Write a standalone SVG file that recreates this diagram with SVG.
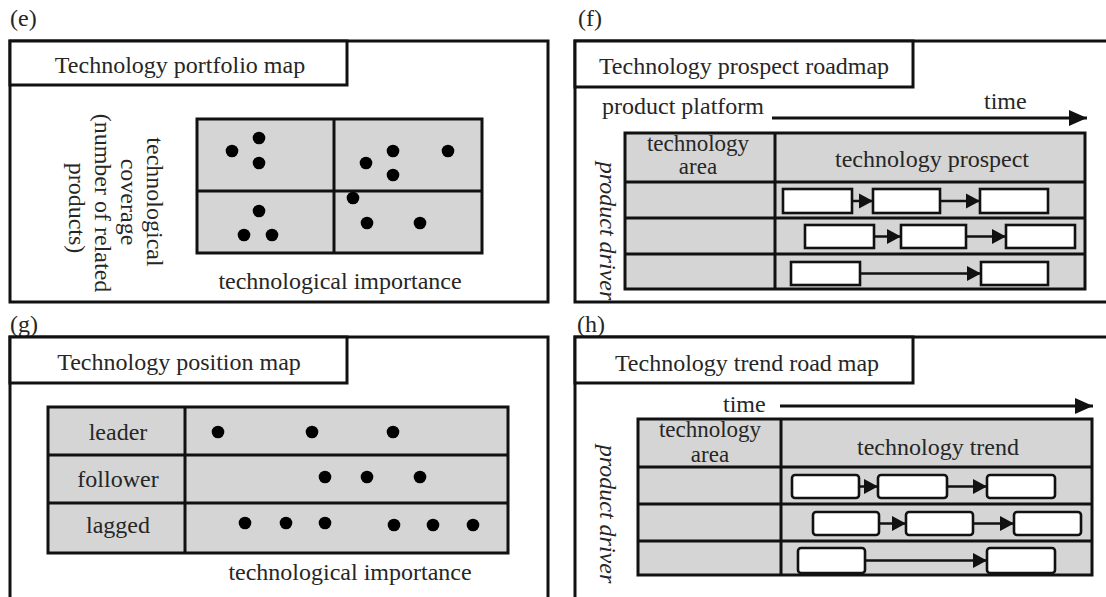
<svg xmlns="http://www.w3.org/2000/svg" width="1106" height="597" viewBox="0 0 1106 597">
<defs>
<style>
text{font-family:"Liberation Serif","Times New Roman",serif;font-size:24px;fill:#262626}
.c{text-anchor:middle}
.it{font-style:italic}
.sm{font-size:23px}
.frame{fill:#fff;stroke:#111;stroke-width:3}
.cell{fill:#d5d5d5;stroke:#111;stroke-width:3}
.ln{stroke:#111;stroke-width:3;fill:none}
.bx{fill:#fff;stroke:#111;stroke-width:2.6}
.dot{fill:#000}
.ar{stroke:#111;stroke-width:2.5;fill:none;marker-end:url(#ah)}
.tar{stroke:#111;stroke-width:3;fill:none;marker-end:url(#th)}
</style>
<marker id="ah" markerUnits="userSpaceOnUse" markerWidth="15" markerHeight="16" refX="14" refY="8" orient="auto"><path d="M0,0.5 L14,8 L0,15.5 Z" fill="#111"/></marker>
<marker id="th" markerUnits="userSpaceOnUse" markerWidth="19" markerHeight="18" refX="18" refY="9" orient="auto"><path d="M0,1 L18,9 L0,17 Z" fill="#111"/></marker>
</defs>

<g id="panel-e">
<text x="10" y="26">(e)</text>
<rect class="frame" x="10" y="41" width="538" height="261"/>
<rect class="frame" x="10" y="41" width="337" height="44"/>
<text class="c" x="180" y="73">Technology portfolio map</text>
<g id="e-axis-y">
<text class="c" transform="translate(147,202) rotate(90)">technological</text>
<text class="c" transform="translate(121,202) rotate(90)">coverage</text>
<text class="c" transform="translate(95,203) rotate(90)">(number of related</text>
<text class="c" transform="translate(69,208) rotate(90)">products)</text>
</g>
<g id="e-grid">
<rect class="cell" x="197" y="119" width="285" height="134"/>
<line class="ln" x1="334" y1="119" x2="334" y2="253"/>
<line class="ln" x1="197" y1="191" x2="482" y2="191"/>
</g>
<g id="e-dots">
<circle class="dot" cx="232" cy="151" r="6.3"/>
<circle class="dot" cx="259" cy="138" r="6.3"/>
<circle class="dot" cx="259" cy="163" r="6.3"/>
<circle class="dot" cx="366" cy="163" r="6.3"/>
<circle class="dot" cx="393" cy="151" r="6.3"/>
<circle class="dot" cx="393" cy="175" r="6.3"/>
<circle class="dot" cx="448" cy="151" r="6.3"/>
<circle class="dot" cx="353" cy="198" r="6.3"/>
<circle class="dot" cx="367" cy="223" r="6.3"/>
<circle class="dot" cx="420" cy="223" r="6.3"/>
<circle class="dot" cx="259" cy="211" r="6.3"/>
<circle class="dot" cx="244" cy="235" r="6.3"/>
<circle class="dot" cx="272" cy="235" r="6.3"/>
</g>
<text class="c" x="340" y="289">technological importance</text>
</g>

<g id="panel-f">
<text x="578" y="26">(f)</text>
<rect class="frame" x="575" y="41" width="540" height="261"/>
<rect class="frame" x="575" y="41" width="338" height="46"/>
<text class="c" x="744" y="74">Technology prospect roadmap</text>
<text x="602" y="114">product platform</text>
<text x="984" y="109">time</text>
<text class="c it" transform="translate(600,231) rotate(90)">product driver</text>
<g id="f-table">
<rect class="cell" x="625" y="133" width="460" height="156"/>
<line class="ln" x1="775" y1="133" x2="775" y2="289"/>
<line class="ln" x1="625" y1="182" x2="1085" y2="182"/>
<line class="ln" x1="625" y1="218" x2="1085" y2="218"/>
<line class="ln" x1="625" y1="254" x2="1085" y2="254"/>
<text class="c sm" x="698" y="151">technology</text>
<text class="c sm" x="698" y="174">area</text>
<text class="c" x="932" y="167">technology prospect</text>
</g>
<g id="f-boxes">
<rect id="f-r1b1" class="bx" x="783" y="189" width="69" height="24"/>
<rect id="f-r1b2" class="bx" x="873" y="189" width="67" height="24"/>
<rect id="f-r1b3" class="bx" x="980" y="189" width="68" height="24"/>
<rect id="f-r2b1" class="bx" x="805" y="225" width="69" height="23"/>
<rect id="f-r2b2" class="bx" x="901" y="225" width="65" height="23"/>
<rect id="f-r2b3" class="bx" x="1006" y="225" width="69" height="23"/>
<rect id="f-r3b1" class="bx" x="791" y="262" width="69" height="23"/>
<rect id="f-r3b2" class="bx" x="981" y="262" width="67" height="23"/>
</g>
</g>

<g id="panel-g">
<text x="10" y="332">(g)</text>
<rect class="frame" x="10" y="337" width="538" height="270"/>
<rect class="frame" x="10" y="337" width="337" height="46"/>
<text class="c" x="179" y="370">Technology position map</text>
<g id="g-table">
<rect class="cell" x="48" y="407" width="460" height="146"/>
<line class="ln" x1="185" y1="407" x2="185" y2="553"/>
<line class="ln" x1="48" y1="455" x2="508" y2="455"/>
<line class="ln" x1="48" y1="503" x2="508" y2="503"/>
<text class="c" x="118" y="440">leader</text>
<text class="c" x="118" y="487">follower</text>
<text class="c" x="118" y="533">lagged</text>
</g>
<g id="g-dots">
<circle class="dot" cx="218" cy="432" r="6.3"/>
<circle class="dot" cx="312" cy="432" r="6.3"/>
<circle class="dot" cx="393" cy="432" r="6.3"/>
<circle class="dot" cx="325" cy="477" r="6.3"/>
<circle class="dot" cx="367" cy="477" r="6.3"/>
<circle class="dot" cx="420" cy="477" r="6.3"/>
<circle class="dot" cx="245" cy="523" r="6.3"/>
<circle class="dot" cx="286" cy="523" r="6.3"/>
<circle class="dot" cx="325" cy="523" r="6.3"/>
<circle class="dot" cx="394" cy="525" r="6.3"/>
<circle class="dot" cx="433" cy="525" r="6.3"/>
<circle class="dot" cx="473" cy="525" r="6.3"/>
</g>
<text class="c" x="350" y="580">technological importance</text>
</g>

<g id="panel-h">
<text x="577" y="332">(h)</text>
<rect class="frame" x="575" y="337" width="540" height="270"/>
<rect class="frame" x="575" y="337" width="338" height="46"/>
<text class="c" x="747" y="371">Technology trend road map</text>
<text x="723" y="412">time</text>
<text class="c it" transform="translate(600,514) rotate(90)">product driver</text>
<g id="h-table">
<rect class="cell" x="638" y="419" width="454" height="156"/>
<line class="ln" x1="781" y1="419" x2="781" y2="575"/>
<line class="ln" x1="638" y1="467" x2="1092" y2="467"/>
<line class="ln" x1="638" y1="504" x2="1092" y2="504"/>
<line class="ln" x1="638" y1="541" x2="1092" y2="541"/>
<text class="c sm" x="710" y="437">technology</text>
<text class="c sm" x="710" y="462">area</text>
<text class="c" x="938" y="455">technology trend</text>
</g>
<g id="h-boxes">
<rect id="h-r1b1" class="bx" x="792" y="475" width="67" height="23" rx="3"/>
<rect id="h-r1b2" class="bx" x="878" y="475" width="69" height="23" rx="3"/>
<rect id="h-r1b3" class="bx" x="987" y="475" width="68" height="23" rx="3"/>
<rect id="h-r2b1" class="bx" x="813" y="512" width="66" height="23" rx="3"/>
<rect id="h-r2b2" class="bx" x="906" y="512" width="67" height="23" rx="3"/>
<rect id="h-r2b3" class="bx" x="1014" y="512" width="67" height="23" rx="3"/>
<rect id="h-r3b1" class="bx" x="798" y="548" width="67" height="25" rx="3"/>
<rect id="h-r3b2" class="bx" x="987" y="548" width="68" height="25" rx="3"/>
</g>
</g>

<g id="connectors">
<line class="tar" x1="772" y1="118" x2="1087" y2="118"/>
<line class="ar" x1="852" y1="201" x2="873" y2="201"/>
<line class="ar" x1="940" y1="201" x2="980" y2="201"/>
<line class="ar" x1="874" y1="236.5" x2="901" y2="236.5"/>
<line class="ar" x1="966" y1="236.5" x2="1006" y2="236.5"/>
<line class="ar" x1="860" y1="273.5" x2="981" y2="273.5"/>
<line class="tar" x1="780" y1="406" x2="1093" y2="406"/>
<line class="ar" x1="859" y1="486.5" x2="878" y2="486.5"/>
<line class="ar" x1="947" y1="486.5" x2="987" y2="486.5"/>
<line class="ar" x1="879" y1="523.5" x2="906" y2="523.5"/>
<line class="ar" x1="973" y1="523.5" x2="1014" y2="523.5"/>
<line class="ar" x1="865" y1="560.5" x2="987" y2="560.5"/>
</g>
</svg>
